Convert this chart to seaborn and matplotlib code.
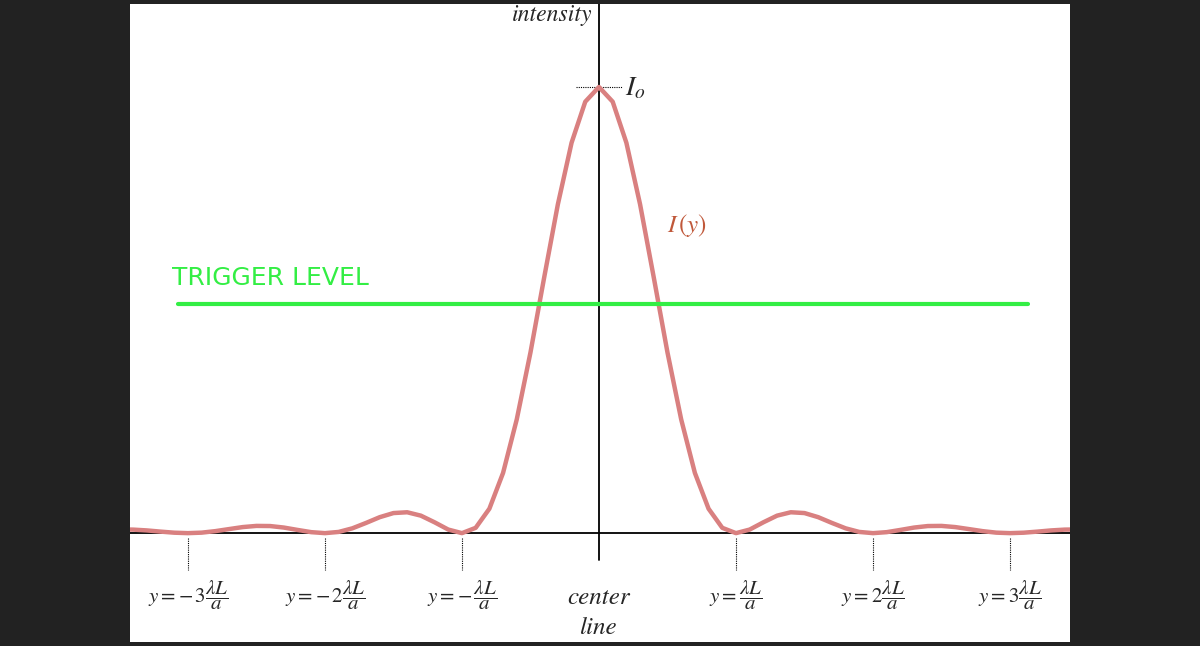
import matplotlib
matplotlib.use("Agg")
import matplotlib.pyplot as plt
import seaborn as sns
import numpy as np
import pandas as pd

# half-profile of I(y)/I0 read at steps of 0.1 (units of lambda*L/a), symmetric about center
pos_half = [0.0,0.1,0.2,0.3,0.4,0.5,0.6,0.7,0.8,0.9,1.0,1.1,1.2,1.3,1.4,1.5,1.6,1.7,1.8,1.9,
            2.0,2.1,2.2,2.3,2.4,2.5,2.6,2.7,2.8,2.9,3.0,3.1,3.2,3.3,3.4,3.5]
int_half = [1.0,0.967,0.875,0.737,0.573,0.405,0.255,0.135,0.0547,0.0119,0.0,0.0080,0.0243,
            0.0392,0.0468,0.0450,0.0358,0.0229,0.0108,0.0027,0.0,0.0022,0.0072,0.0125,0.0159,
            0.0162,0.0136,0.0091,0.0045,0.0011,0.0,0.0010,0.0034,0.0061,0.0079,0.0083]
trigger_level = 0.513
minima = [-3, -2, -1, 1, 2, 3]
minima_labels = [r"$y=-\,3\dfrac{\lambda L}{a}$", r"$y=-\,2\dfrac{\lambda L}{a}$",
                 r"$y=-\,\dfrac{\lambda L}{a}$", r"$y=\dfrac{\lambda L}{a}$",
                 r"$y=2\dfrac{\lambda L}{a}$", r"$y=3\dfrac{\lambda L}{a}$"]

pos = [-p for p in pos_half[:0:-1]] + pos_half
inten = int_half[:0:-1] + int_half
df = pd.DataFrame({"y": pos, "I": inten})

sns.set_style("white")
plt.rcParams["mathtext.fontset"] = "stix"
fig = plt.figure(figsize=(12, 6.46), dpi=100, facecolor="#222222")
ax = fig.add_axes([130/1200, 4/646, 940/1200, 638/646])
ax.set_facecolor("white")
for s in ax.spines.values():
    s.set_visible(False)
ax.set_xticks([]); ax.set_yticks([])
ax.set_xlim(-3.423, 3.438)
ax.set_ylim(-0.244, 1.186)

ax.axhline(0, color="black", lw=1.3, zorder=1)
ax.plot([0, 0], [-0.06, 1.186], color="black", lw=1.3, zorder=1)
sns.lineplot(data=df, x="y", y="I", ax=ax, color="#d98080", lw=3.2, zorder=3)
ax.plot([-3.07, 3.13], [trigger_level]*2, color="#33ee44", lw=3, zorder=4)
ax.text(-3.12, 0.545, "TRIGGER LEVEL", color="#33ee44", fontsize=18, family="DejaVu Sans", va="bottom")

for m, lab in zip(minima, minima_labels):
    ax.plot([m, m], [-0.01, -0.083], color="black", lw=0.8, ls=(0, (1, 1)))
    ax.text(m, -0.14, lab, ha="center", va="center", fontsize=15, family="STIXGeneral")
ax.text(0, -0.145, "center", ha="center", va="center", fontsize=18, style="italic", family="STIXGeneral")
ax.text(0, -0.213, "line", ha="center", va="center", fontsize=18, style="italic", family="STIXGeneral")
ax.plot([-0.17, 0.17], [1.0, 1.0], color="black", lw=0.8, ls=(0, (1, 1)))
ax.text(0.19, 1.0, r"$I_o$", fontsize=20, va="center")
ax.text(-0.05, 1.163, "intensity", ha="right", va="center", fontsize=17, style="italic", family="STIXGeneral")
ax.text(0.5, 0.69, r"$I\,\left(y\right)$", color="#c0583a", fontsize=18, va="center")

fig.savefig("out.png", dpi=100, facecolor=fig.get_facecolor())
